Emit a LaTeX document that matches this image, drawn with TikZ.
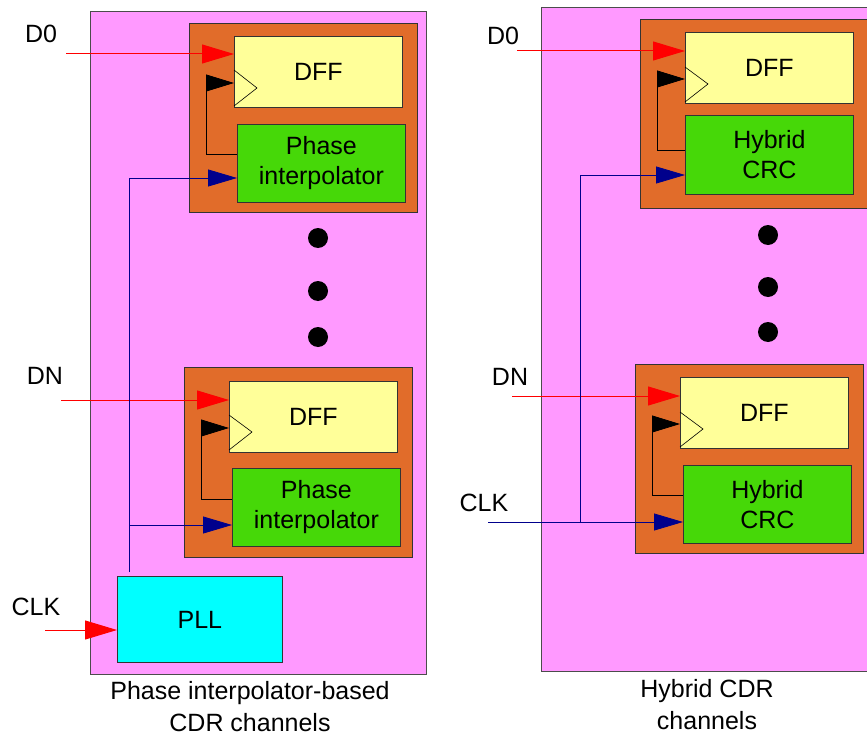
\documentclass[tikz,border=0pt]{standalone}
\usepackage{fontspec}
\setmainfont{Liberation Sans}
\usetikzlibrary{arrows.meta}
\definecolor{pinkbg}{RGB}{255,153,255}
\definecolor{orangebg}{RGB}{225,108,42}
\definecolor{dffyel}{RGB}{255,255,153}
\definecolor{grn}{RGB}{70,216,8}
\definecolor{cyanbox}{RGB}{0,255,255}
\definecolor{navy}{RGB}{0,0,140}
\definecolor{redarr}{RGB}{255,0,0}
\tikzset{
  panel/.style={draw=black!70, fill=pinkbg, line width=0.8pt},
  chan/.style={draw=black!80, fill=orangebg, line width=0.8pt},
  blockbox/.style={draw=black!80, line width=0.8pt, anchor=north west, inner sep=0pt,
     minimum width=168pt, align=center, font=\fontsize{25}{30}\selectfont},
  dffbox/.style={blockbox, fill=dffyel, minimum height=71pt},
  grnbox/.style={blockbox, fill=grn, minimum height=78pt},
  pllbox/.style={blockbox, fill=cyanbox, minimum width=165pt, minimum height=86pt},
  lbl/.style={font=\fontsize{25}{32}\selectfont, inner sep=0pt, align=center},
  clktri/.style={draw=black, line width=0.6pt},
  redline/.style={draw=redarr, line width=1pt, -{Triangle[length=32pt,width=19pt]}},
  blkline/.style={draw=black, line width=0.8pt, -{Triangle[length=28pt,width=17pt]}},
  blueline/.style={draw=navy, line width=0.8pt, -{Triangle[length=29pt,width=17pt]}},
  bluewire/.style={draw=navy, line width=0.8pt},
  dot/.style={circle, fill=black, minimum size=20pt, inner sep=0pt},
}
\begin{document}
\begin{tikzpicture}[x=1pt,y=-1pt]
\useasboundingbox (0,0) rectangle (867,738);
% ===== Left panel =====
\path[panel] (90,11) rectangle (426,674);
% upper channel
\path[chan] (189,23) rectangle (417,212);
\node[dffbox] (dffA) at (234,36) {DFF};
\node[grnbox] (piA) at (237,124) {Phase\\interpolator};
\draw[clktri] (234,70) -- (257,88) -- (234,106);
% lower channel
\path[chan] (184,367) rectangle (412,557);
\node[dffbox] (dffB) at (229,381) {DFF};
\node[grnbox] (piB) at (232,468) {Phase\\interpolator};
\draw[clktri] (229,415) -- (252,432) -- (229,450);
% PLL
\node[pllbox] (pll) at (117,576) {PLL};
% dots
\node[dot] (lA) at (318,238) {};
\node[dot] (lB) at (318,291) {};
\node[dot] (lC) at (318,337) {};
% labels
\node[lbl] (d0L) at (41,34) {D0};
\node[lbl] (dnL) at (45,376) {DN};
\node[lbl] (clkL) at (36,607) {CLK};
\node[lbl] (capL) at (250,707) {Phase interpolator-based\\CDR channels};
% coordinates
\coordinate (d0Ain) at (66,54);
\coordinate (dnBin) at (61,400);
\coordinate (clkin) at (45,630);
\coordinate (piAout) at (237,154);
\coordinate (bendA) at (206,154);
\coordinate (ckA) at (234,83);
\coordinate (piBout) at (232,499);
\coordinate (bendB) at (201,499);
\coordinate (ckB) at (229,428);
\coordinate (busTop) at (129,178);
\coordinate (busTap) at (129,525);
\coordinate (busBot) at (129,572);
% connectors
\draw[redline] (d0Ain) -- (d0Ain -| dffA.west);
\draw[redline] (dnBin) -- (dnBin -| dffB.west);
\draw[redline] (clkin) -- (clkin -| pll.west);
\draw[blkline] (piAout) -- (bendA) |- (ckA);
\draw[blkline] (piBout) -- (bendB) |- (ckB);
\draw[bluewire] (busBot) -- (busTop);
\draw[blueline] (busTop) -- (busTop -| piA.west);
\draw[blueline] (busTap) -- (busTap -| piB.west);
% ===== Right panel =====
\fill[pinkbg] (541,7) rectangle (867,671);
\draw[black!70, line width=0.8pt] (867,7) -- (541,7) -- (541,671) -- (867,671);
% upper channel (cut at right edge)
\fill[orangebg] (640,19) rectangle (867,208);
\draw[black!80, line width=0.8pt] (867,19) -- (640,19) -- (640,208) -- (867,208);
\node[dffbox] (dffC) at (685,32) {DFF};
\node[grnbox, minimum height=79pt] (crcC) at (685,115) {Hybrid\\CRC};
\draw[clktri] (685,67) -- (708,84) -- (685,102);
% lower channel
\path[chan] (635,364) rectangle (863,553);
\node[dffbox] (dffD) at (680,377) {DFF};
\node[grnbox] (crcD) at (683,465) {Hybrid\\CRC};
\draw[clktri] (680,412) -- (703,429) -- (680,447);
% dots
\node[dot] (rA) at (768,235) {};
\node[dot] (rB) at (768,287) {};
\node[dot] (rC) at (768,332) {};
% labels
\node[lbl] (d0R) at (503,36) {D0};
\node[lbl] (dnR) at (510,377) {DN};
\node[lbl] (clkR) at (484,503) {CLK};
\node[lbl] (capR) at (707,705) {Hybrid CDR\\channels};
% coordinates
\coordinate (d0Cin) at (517,51);
\coordinate (dnDin) at (512,396);
\coordinate (clkRin) at (488,522);
\coordinate (crcCout) at (685,150);
\coordinate (bendC) at (657,150);
\coordinate (ckC) at (685,79);
\coordinate (crcDout) at (683,495);
\coordinate (bendD) at (652,495);
\coordinate (ckD) at (680,424);
\coordinate (rbusTop) at (580,175);
\coordinate (rbusBot) at (580,522);
% connectors
\draw[redline] (d0Cin) -- (d0Cin -| dffC.west);
\draw[redline] (dnDin) -- (dnDin -| dffD.west);
\draw[blkline] (crcCout) -- (bendC) |- (ckC);
\draw[blkline] (crcDout) -- (bendD) |- (ckD);
\draw[bluewire] (rbusBot) -- (rbusTop);
\draw[blueline] (rbusTop) -- (rbusTop -| crcC.west);
\draw[blueline] (clkRin) -- (clkRin -| crcD.west);
\end{tikzpicture}
\end{document}
